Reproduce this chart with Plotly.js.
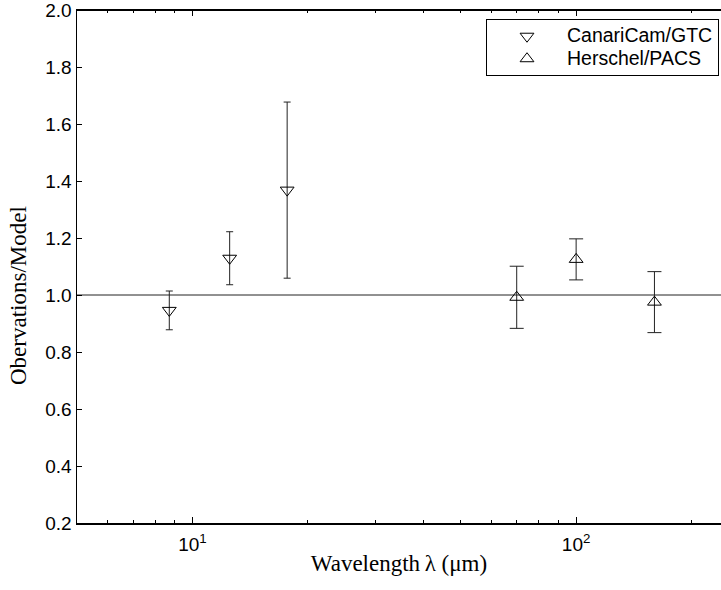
<!DOCTYPE html>
<html>
<head>
<meta charset="utf-8">
<script src="https://cdn.plot.ly/plotly-3.0.1.min.js"></script>
<style>html,body{margin:0;padding:0;background:#fff;}#chart{width:721px;height:590px;}</style>
</head>
<body>
<div id="chart"></div>
<script>
// CanariCam/GTC (mid-IR)
var canariWavelength = [8.7, 12.5, 17.65];
var canariRatio = [0.946, 1.129, 1.368];
var canariError = [0.068, 0.093, 0.309];
// Herschel/PACS (far-IR)
var pacsWavelength = [70, 100, 160];
var pacsRatio = [0.992, 1.125, 0.975];
var pacsError = [0.109, 0.072, 0.107];
// reference level and axis ticks
var modelLevel = 1.0;
var xMajorTicks = [10, 100];
var xMajorLabels = ['10<sup>1</sup>', '10<sup>2</sup>'];
var xMinorTicks = [5, 6, 7, 8, 9, 20, 30, 40, 50, 60, 70, 80, 90, 200];
var yTicks = [0.2, 0.4, 0.6, 0.8, 1.0, 1.2, 1.4, 1.6, 1.8, 2.0];
var seriesNames = ['CanariCam/GTC', 'Herschel/PACS'];

var sansFont = 'Liberation Sans, Arial, sans-serif';
var serifFont = 'Liberation Serif, Times New Roman, serif';

function legendLabel(s) { return '<span style="font-size:19.5px">' + s + '</span>'; }

var traces = [
  {
    x: canariWavelength, y: canariRatio, name: legendLabel(seriesNames[0]),
    type: 'scatter', mode: 'markers',
    marker: {symbol: 'triangle-down-open', size: 12, color: '#000', line: {width: 1, color: '#000'}},
    error_y: {type: 'data', array: canariError, visible: true, color: '#222', thickness: 1, width: 3.5}
  },
  {
    x: pacsWavelength, y: pacsRatio, name: legendLabel(seriesNames[1]),
    type: 'scatter', mode: 'markers',
    marker: {symbol: 'triangle-up-open', size: 12, color: '#000', line: {width: 1, color: '#000'}},
    error_y: {type: 'data', array: pacsError, visible: true, color: '#222', thickness: 1, width: 7}
  }
];

var layout = {
  width: 721, height: 590,
  margin: {l: 77, r: 0, t: 10, b: 67},
  paper_bgcolor: '#fff', plot_bgcolor: '#fff',
  showlegend: true,
  legend: {
    x: 0.9969, xanchor: 'right', y: 0.9825, yanchor: 'top',
    bgcolor: '#fff', bordercolor: '#000', borderwidth: 1,
    font: {family: sansFont, size: 15, color: '#000'},
    itemwidth: 70
  },
  xaxis: {
    type: 'log',
    range: [Math.log10(5), 2.3776],
    tickmode: 'array', tickvals: xMajorTicks, ticktext: xMajorLabels,
    ticks: 'inside', ticklen: 6, tickwidth: 1, tickcolor: '#000',
    minor: {tickmode: 'array', tickvals: xMinorTicks, ticks: 'inside', ticklen: 3, tickwidth: 1, tickcolor: '#000', showgrid: false},
    showline: true, linecolor: '#000', linewidth: 1.5, mirror: 'ticks',
    showgrid: false, zeroline: false,
    tickfont: {family: sansFont, size: 19, color: '#000'},
    ticklabelstandoff: 4,
    title: {text: 'Wavelength\u2009\u03bb (\u03bcm)', font: {family: serifFont, size: 23, color: '#000'}, standoff: 0}
  },
  yaxis: {
    range: [0.2, 2.0],
    tickmode: 'array', tickvals: yTicks, ticktext: yTicks.map(function(v){return v.toFixed(1);}),
    ticks: 'inside', ticklen: 5, tickwidth: 1, tickcolor: '#000',
    showline: true, linecolor: '#000', linewidth: 1.5, mirror: false,
    showgrid: false, zeroline: false,
    ticklabeloverflow: 'allow',
    tickfont: {family: sansFont, size: 19, color: '#000'}
  },
  annotations: [{
    text: 'Obervations/Model', textangle: -90,
    xref: 'paper', yref: 'paper', x: -0.09, y: 0.4425,
    xanchor: 'center', yanchor: 'middle', showarrow: false,
    font: {family: serifFont, size: 23, color: '#000'}
  }],
  shapes: [
    {
      type: 'line', xref: 'paper', x0: 0, x1: 1, yref: 'y', y0: modelLevel, y1: modelLevel,
      line: {color: '#222', width: 1}, layer: 'below'
    },
    {
      type: 'line', xref: 'paper', x0: 0, x1: 1, yref: 'paper', y0: 1, y1: 1,
      line: {color: '#000', width: 2}, layer: 'above'
    }
  ]
};

Plotly.newPlot('chart', traces, layout, {displayModeBar: false, staticPlot: true});
</script>
</body>
</html>
